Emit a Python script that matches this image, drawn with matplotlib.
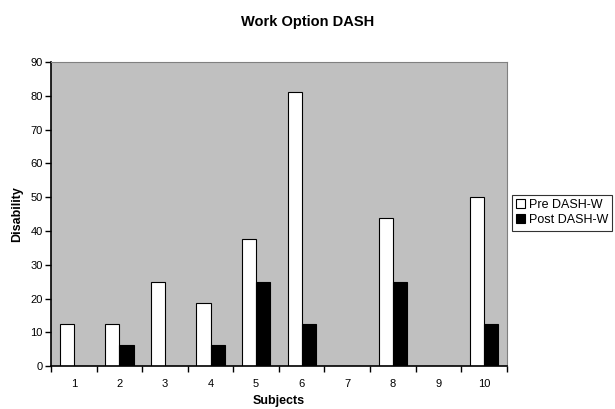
import numpy as np
import matplotlib.pyplot as plt

plt.rcParams['font.family'] = ['Liberation Sans', 'DejaVu Sans']

subjects = ['1', '2', '3', '4', '5', '6', '7', '8', '9', '10']
pre_dash = [12.5, 12.5, 25, 18.75, 37.5, 81.25, 0, 43.75, 0, 50]
post_dash = [0, 6.25, 0, 6.25, 25, 12.5, 0, 25, 0, 12.5]

fig = plt.figure(figsize=(6.15, 4.09), dpi=100)
ax = fig.add_axes([0.083, 0.105, 0.741, 0.743])
ax.set_facecolor('#c0c0c0')

x = np.arange(len(subjects))
w = 0.31
ax.bar(x - w / 2, pre_dash, w, color='white', edgecolor='black', linewidth=0.8, label='Pre DASH-W')
ax.bar(x + w / 2, post_dash, w, color='black', edgecolor='black', linewidth=0.8, label='Post DASH-W')

ax.set_xlim(-0.5, len(subjects) - 0.5)
ax.set_ylim(0, 90)
ax.set_yticks(range(0, 91, 10))
ax.set_xticks(x)
ax.set_xticklabels(subjects)
ax.set_xticks(np.arange(-0.5, len(subjects), 1), minor=True)
ax.tick_params(axis='x', which='major', length=0, labelsize=8, pad=9)
ax.tick_params(axis='x', which='minor', length=4, width=1, direction='out')
ax.tick_params(axis='y', labelsize=8, length=4, width=1, direction='out', pad=2)

for s in ['top', 'right']:
    ax.spines[s].set_color('#808080')
for s in ['left', 'bottom']:
    ax.spines[s].set_color('black')
    ax.spines[s].set_linewidth(1.2)

ax.set_xlabel('Subjects', fontsize=9, fontweight='bold', labelpad=5)
ax.set_ylabel('Disability', fontsize=9, fontweight='bold', labelpad=5)
fig.text(0.5, 0.945, 'Work Option DASH', ha='center', va='center', fontsize=10.5, fontweight='bold')

leg = fig.legend(loc='center left', bbox_to_anchor=(0.832, 0.48), fontsize=9,
                 frameon=True, fancybox=False, edgecolor='black', borderpad=0.35,
                 handlelength=0.7, handleheight=0.7, handletextpad=0.3, labelspacing=0.25,
                 borderaxespad=0)
leg.get_frame().set_linewidth(0.8)

fig.savefig('out.png', dpi=100)
